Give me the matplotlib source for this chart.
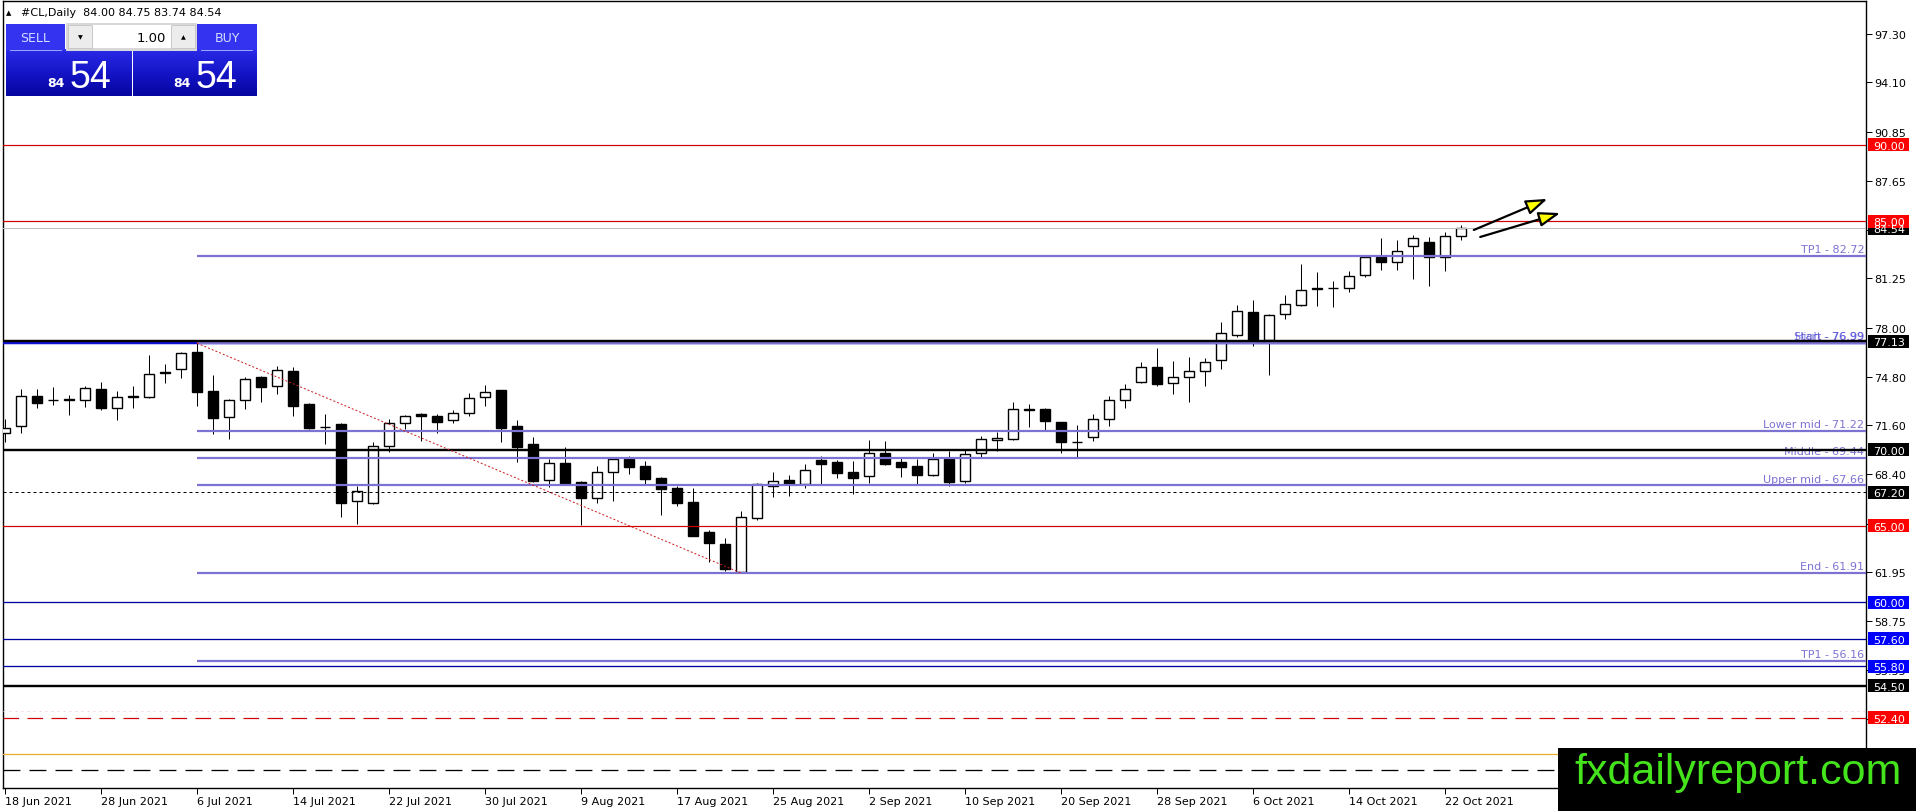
import matplotlib
matplotlib.use("Agg")
import matplotlib.pyplot as plt
import numpy as np
from matplotlib.patches import Rectangle
from matplotlib.transforms import blended_transform_factory

W, H = 1916, 812

# ---------------- data ----------------
opens = [71.10, 71.58, 73.52, 73.25, 73.28, 73.28, 73.98, 72.76, 73.50, 73.48,
         75.10, 75.32, 76.41, 73.85, 72.17, 73.24, 74.75, 74.16, 75.14, 73.00,
         71.47, 71.69, 66.61, 66.48, 70.22, 71.73, 72.35, 72.19, 71.93, 72.39,
         73.43, 73.92, 71.54, 70.38, 68.04, 69.13, 67.88, 66.86, 68.52, 69.39,
         68.93, 68.15, 67.49, 66.57, 64.60, 63.82, 61.96, 65.50, 67.60, 67.99,
         67.73, 69.32, 69.19, 68.54, 68.30, 69.78, 69.21, 68.95, 68.36, 69.39,
         67.97, 69.76, 70.64, 70.72, 72.65, 72.67, 71.80, 70.53, 70.81, 71.99,
         73.24, 74.47, 75.41, 74.36, 74.75, 75.15, 75.91, 77.53, 79.02, 77.20,
         78.89, 79.52, 80.60, 80.58, 80.59, 81.49, 82.63, 82.30, 83.35, 83.65,
         82.63, 84.00]
highs = [72.00, 73.98, 73.98, 74.11, 73.61, 74.20, 74.46, 73.85, 74.18, 76.21,
         75.62, 76.39, 76.98, 74.88, 73.30, 74.75, 74.85, 75.47, 75.43, 73.05,
         72.34, 71.75, 67.64, 70.48, 72.02, 72.25, 72.40, 72.35, 72.61, 73.72,
         74.27, 73.95, 71.95, 70.81, 69.39, 70.16, 67.95, 68.91, 69.42, 69.61,
         69.24, 68.20, 67.60, 67.49, 64.71, 64.21, 65.96, 67.79, 68.52, 68.34,
         69.06, 69.61, 69.32, 69.24, 70.64, 70.55, 69.50, 69.41, 69.78, 69.91,
         70.05, 70.92, 71.14, 73.15, 73.00, 72.71, 71.85, 71.62, 72.32, 73.55,
         74.31, 75.74, 76.66, 75.80, 76.06, 76.00, 78.36, 79.50, 79.83, 78.88,
         80.15, 82.19, 81.66, 81.10, 81.70, 82.74, 83.89, 83.76, 84.09, 83.94,
         84.27, 84.75]
lows = [70.50, 71.10, 72.74, 72.93, 72.28, 72.82, 72.63, 71.97, 72.74, 73.39,
        74.38, 74.70, 72.87, 71.03, 70.70, 72.67, 73.15, 73.65, 72.21, 71.36,
        70.37, 65.61, 65.15, 66.45, 69.83, 71.36, 70.55, 71.08, 71.73, 72.23,
        72.89, 70.53, 69.17, 67.86, 67.58, 67.75, 65.08, 66.53, 66.66, 68.41,
        67.75, 65.74, 66.33, 64.32, 62.61, 62.07, 61.91, 65.41, 66.92, 66.98,
        67.51, 67.73, 68.14, 67.12, 67.82, 69.00, 68.23, 67.75, 68.30, 67.60,
        67.81, 69.50, 69.94, 70.66, 71.51, 71.31, 69.78, 69.54, 70.59, 71.58,
        72.74, 74.38, 74.21, 73.68, 73.11, 74.21, 75.30, 77.38, 76.83, 74.93,
        78.58, 79.45, 79.45, 79.39, 80.37, 81.36, 81.82, 81.82, 81.20, 80.77,
        81.75, 83.74]
closes = [71.43, 73.50, 73.09, 73.28, 73.30, 74.03, 72.74, 73.44, 73.44, 74.97,
          75.05, 76.32, 73.81, 72.10, 73.24, 74.62, 74.14, 75.21, 72.89, 71.42,
          71.50, 66.52, 67.31, 70.22, 71.73, 72.19, 72.19, 71.84, 72.39, 73.37,
          73.76, 71.42, 70.20, 67.97, 69.11, 67.82, 66.81, 68.52, 69.39, 68.89,
          68.06, 67.45, 66.53, 64.36, 63.86, 62.17, 65.57, 67.75, 67.97, 67.73,
          68.65, 69.08, 68.47, 68.16, 69.78, 69.06, 68.89, 68.36, 69.41, 67.90,
          69.70, 70.70, 70.75, 72.65, 72.60, 71.90, 70.53, 70.50, 71.99, 73.24,
          73.96, 75.41, 74.34, 74.75, 75.15, 75.74, 77.64, 79.08, 77.22, 78.84,
          79.59, 80.48, 80.55, 80.62, 81.42, 82.63, 82.30, 83.02, 83.87, 82.63,
          84.00, 84.54]

date_tick_bars = [0, 6, 12, 18, 24, 30, 36, 42, 48, 54, 60, 66, 72, 78, 84, 90]
date_tick_labels = ["18 Jun 2021", "28 Jun 2021", "6 Jul 2021", "14 Jul 2021",
                    "22 Jul 2021", "30 Jul 2021", "9 Aug 2021", "17 Aug 2021",
                    "25 Aug 2021", "2 Sep 2021", "10 Sep 2021", "20 Sep 2021",
                    "28 Sep 2021", "6 Oct 2021", "14 Oct 2021", "22 Oct 2021"]

price_ticks = [97.30, 94.10, 90.85, 87.65, 84.45, 81.25, 78.00, 74.80, 71.60,
               68.40, 65.15, 61.95, 58.75, 55.55, 52.30]

red_levels = [90.00, 85.00, 65.00]
blue_levels = [60.00, 57.60, 55.80]
black_levels = [77.13, 70.00, 54.50]
black_dotted_level = 67.20
red_dashed_level = 52.40
orange_level = 50.00
black_dashed_level = 49.00
current_price = 84.54
start_blue_level = 76.99

fib_levels = [82.72, 76.99, 71.22, 69.44, 67.66, 61.91, 56.16]
fib_names = ["TP1", "Start", "Lower mid", "Middle", "Upper mid", "End", "TP1"]
fib_start_bar = 12

trend_x = [12, 46]
trend_y = [76.99, 61.91]

arrow1_x = [91.8, 96.4]
arrow1_y = [84.42, 86.46]
arrow2_x = [92.2, 97.2]
arrow2_y = [83.96, 85.53]

symbol_line = "#CL,Daily  84.00 84.75 83.74 84.54"
lot_text = "1.00"
bid_big, bid_small = "54", "84"

# ---------------- figure ----------------
fig = plt.figure(figsize=(W / 100, H / 100), dpi=100)
fig.patch.set_facecolor("white")
ax = fig.add_axes([3 / W, (H - 789) / H, (1866 - 3) / W, (789 - 2) / H])
ax.set_facecolor("white")
ax.set_xlim(-0.125, 116.31)
ax.set_ylim(47.80, 99.446)
for s in ax.spines.values():
    s.set_color("black")
    s.set_linewidth(1.0)

PX = 0.72  # one pixel in points
n = len(opens)
xs = np.arange(n)
o = np.array(opens); c = np.array(closes); hi = np.array(highs); lo = np.array(lows)

# wicks
ax.vlines(xs, lo, hi, color="black", linewidth=PX, zorder=2)
# bodies
bull = c >= o
bottoms = np.minimum(o, c)
heights = np.maximum(np.abs(c - o), 0.02)
ax.bar(xs[bull], heights[bull], bottom=bottoms[bull], width=0.66,
       facecolor="white", edgecolor="black", linewidth=1.0, zorder=3)
ax.bar(xs[~bull], heights[~bull], bottom=bottoms[~bull], width=0.66,
       facecolor="black", edgecolor="black", linewidth=1.0, zorder=3)

# horizontal levels
purple = "#7c72d2"
ax.axhline(current_price, color="#c0c0c0", linewidth=PX, zorder=4)
for p in red_levels:
    ax.axhline(p, color="#d40000", linewidth=PX * 1.2, zorder=4)
for p in blue_levels:
    ax.axhline(p, color="#00009a", linewidth=PX * 1.3, zorder=4)
ax.axhline(start_blue_level, color="#1010d8", linewidth=PX * 2.5, zorder=4)
ax.axhline(black_dotted_level, color="black", linewidth=PX, linestyle=(0, (3, 3)), zorder=4)
ax.axhline(red_dashed_level + 0.48, color="#f2d8d8", linewidth=PX, linestyle=(0, (2, 4)), zorder=4)
ax.axhline(red_dashed_level, color="#d40000", linewidth=PX * 1.2, linestyle=(0, (13, 7)), zorder=4)
ax.axhline(orange_level, color="#e8b030", linewidth=PX * 1.3, zorder=4)
ax.axhline(black_dashed_level, color="black", linewidth=PX * 1.3, linestyle=(0, (13, 7)), zorder=4)

# fibonacci lines
for p, name in zip(fib_levels, fib_names):
    ax.hlines(p, fib_start_bar, 116.31, color=purple, linewidth=PX * 2.2, zorder=5)
    ax.text(116.2, p + 0.12, f"{name} - {p:.2f}", color=purple, fontsize=8,
            ha="right", va="bottom", zorder=5, family="DejaVu Sans")
ax.text(116.2, fib_levels[1] + 0.12, "High - 76.99", color="#3a3ae0", fontsize=8,
        ha="right", va="bottom", zorder=5, alpha=0.6)

for p in black_levels:
    ax.axhline(p, color="black", linewidth=PX * 2.4, zorder=6)

# trend line
ax.plot(trend_x, trend_y, color="#cc2020", linewidth=PX, linestyle=(0, (2, 2)), zorder=6)

# arrows
for axs, ays in ((arrow1_x, arrow1_y), (arrow2_x, arrow2_y)):
    ax.annotate("", xy=(axs[1], ays[1]), xytext=(axs[0], ays[0]),
                arrowprops=dict(arrowstyle="-|>,head_length=1.3,head_width=0.45",
                                mutation_scale=10, facecolor="#ffff00",
                                edgecolor="black", linewidth=1.6,
                                shrinkA=0, shrinkB=0), zorder=7)

# axis ticks
ax.yaxis.tick_right()
ax.set_yticks(price_ticks)
ax.set_yticklabels([f"{t:.2f}" for t in price_ticks])
ax.tick_params(axis="y", direction="out", length=4, width=PX, pad=2,
               labelsize=8, colors="black")
ax.set_xticks(date_tick_bars)
ax.set_xticklabels(date_tick_labels)
for lab in ax.get_xticklabels():
    lab.set_horizontalalignment("left")
ax.tick_params(axis="x", direction="out", length=4, width=PX, pad=2, labelsize=8)

# ---------------- price label boxes ----------------
inv = fig.transFigure.inverted()


def ypix(p):
    return ax.transData.transform((0, p))[1]


def price_box(p, bg):
    yc = ypix(p)
    x0, y0 = inv.transform((1868, yc - 6.5))
    x1, y1 = inv.transform((1909, yc + 6.5))
    fig.add_artist(Rectangle((x0, y0), x1 - x0, y1 - y0, transform=fig.transFigure,
                             facecolor=bg, edgecolor="none", zorder=10))
    tx, ty = inv.transform((1873, yc))
    fig.text(tx, ty, f"{p:.2f}", color="white", fontsize=8, ha="left",
             va="center_baseline", zorder=11)


price_box(current_price, "black")
for p in red_levels + [red_dashed_level]:
    price_box(p, "#ff0000")
for p in blue_levels:
    price_box(p, "#0000ff")
for p in black_levels + [black_dotted_level]:
    price_box(p, "black")


# ---------------- trade panel (pixel coords) ----------------
def frect(x0, y0, x1, y1, **kw):
    fig.add_artist(Rectangle((x0 / W, 1 - y1 / H), (x1 - x0) / W, (y1 - y0) / H,
                             transform=fig.transFigure, **kw))


def ftext(x, y, s, **kw):
    fig.text(x / W, 1 - y / H, s, **kw)


ftext(6, 13, "▲", fontsize=5, va="center", ha="left", zorder=12)
ftext(21, 13, symbol_line, fontsize=8, va="center", ha="left", zorder=12)

grad = np.linspace(0, 1, 64).reshape(-1, 1)
from matplotlib.colors import LinearSegmentedColormap
cmap = LinearSegmentedColormap.from_list("btn", ["#2a2ae8", "#1515c8", "#0606a0"])
for (bx0, bx1) in ((6, 131), (133, 257)):
    bax = fig.add_axes([bx0 / W, 1 - 97 / H, (bx1 - bx0) / W, (97 - 50) / H], zorder=12)
    bax.imshow(grad, aspect="auto", cmap=cmap, extent=(0, 1, 0, 1), origin="upper")
    bax.set_axis_off()

frect(6, 25, 65, 51, facecolor="#3434f0", edgecolor="none", zorder=13)
frect(197, 25, 257, 51, facecolor="#3434f0", edgecolor="none", zorder=13)
frect(10, 51, 62, 52, facecolor="#9aa4ff", edgecolor="none", zorder=14)
frect(201, 51, 253, 52, facecolor="#9aa4ff", edgecolor="none", zorder=14)
frect(66, 24, 197, 52, facecolor="#d8d8d8", edgecolor="none", zorder=13)
frect(68, 26, 195, 49, facecolor="white", edgecolor="none", zorder=14)
frect(68, 26, 92, 49, facecolor="#ececec", edgecolor="#c8c8c8", linewidth=0.7, zorder=15)
frect(171, 26, 195, 49, facecolor="#ececec", edgecolor="#c8c8c8", linewidth=0.7, zorder=15)
ftext(80, 38, "▼", fontsize=4.5, ha="center", va="center", zorder=16)
ftext(183, 38, "▲", fontsize=4.5, ha="center", va="center", zorder=16)
ftext(166, 38, lot_text, fontsize=9.5, ha="right", va="center", zorder=16)
ftext(35, 39, "SELL", fontsize=9, ha="center", va="center", color="#d4dcff", zorder=16)
ftext(227, 39, "BUY", fontsize=9, ha="center", va="center", color="#d4dcff", zorder=16)

for sx, bx in ((47, 70), (173, 196)):
    ftext(sx, 87, bid_small, fontsize=9, fontweight="bold", ha="left",
          va="baseline", color="white", zorder=16)
    ftext(bx, 88, bid_big, fontsize=27, ha="left", va="baseline", color="white",
          family="Liberation Sans", zorder=16)

# ---------------- watermark ----------------
frect(1558, 749, 1916, 812, facecolor="black", edgecolor="none", zorder=20)
ftext(1574, 784, "fxdailyreport.com", fontsize=31, color="#44e31c",
      family="Liberation Sans", ha="left", va="baseline", zorder=21)

fig.savefig("out.png", dpi=100, facecolor="white")
